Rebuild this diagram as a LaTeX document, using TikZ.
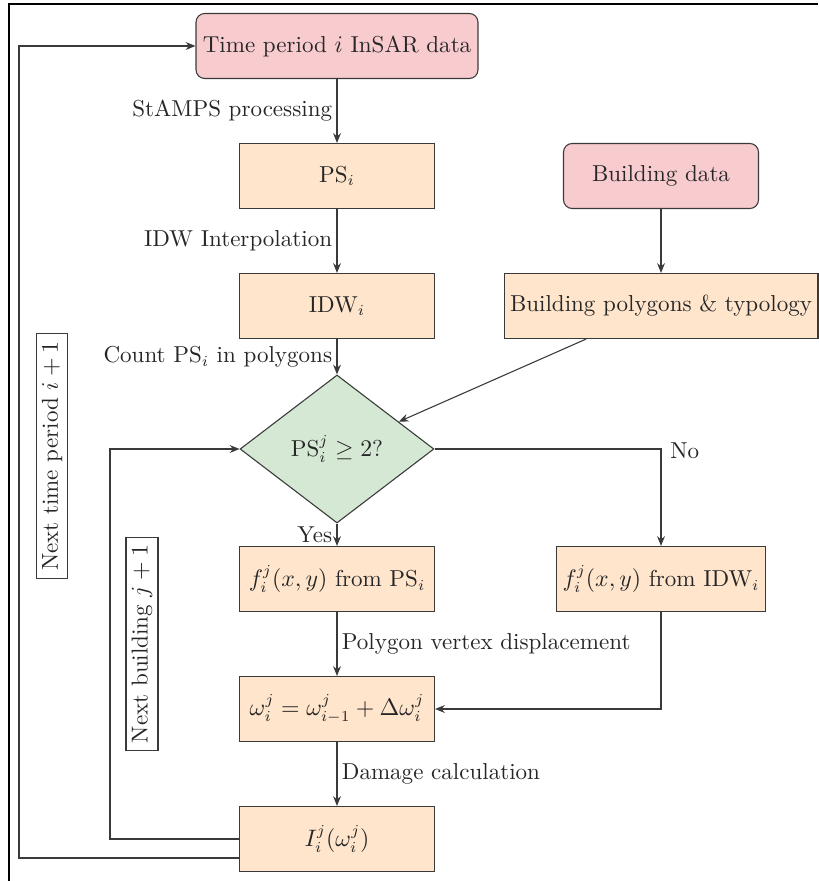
\documentclass[tikz,border=0pt]{standalone}
\usepackage{amsmath,amssymb}
\usetikzlibrary{shapes.geometric,arrows.meta,calc}
\definecolor{pinkf}{HTML}{F8CBCF}
\definecolor{orangef}{HTML}{FFE5CC}
\definecolor{greenf}{HTML}{D5E8D4}
\definecolor{linec}{HTML}{3A3A3A}
\begin{document}
\begin{tikzpicture}[x=0.46pt,y=-0.46pt,
  every node/.style={text=black!85, font=\fontsize{10.6}{12.7}\selectfont},
  base/.style={draw=linec, line width=0.5pt, align=center, inner sep=2pt},
  databox/.style={base, fill=pinkf, rounded corners=4pt, minimum height=29.9pt},
  procbox/.style={base, fill=orangef, minimum width=89.7pt, minimum height=29.9pt},
  decbox/.style={base, fill=greenf, diamond, aspect=1.31, minimum width=89.2pt, minimum height=68.1pt, inner sep=0pt},
  loopbox/.style={draw=linec, line width=0.5pt, rotate=90, inner xsep=3.3pt, inner ysep=2.6pt},
  conn/.style={draw=linec, line width=0.5pt, -{Stealth[length=4.5pt,width=3.6pt]}},
  lbl/.style={text=black!85, inner sep=2pt}
]
\useasboundingbox (0,0) rectangle (818,881);
% frame lines
\draw[line width=1.3pt] (9,881) -- (9,4) -- (818,4);

\node[databox, minimum width=129.7pt] (tp) at (337,46) {Time period $i$ InSAR data};
\node[procbox] (ps) at (337,176) {PS$_i$};
\node[databox, minimum width=89.7pt] (bd) at (661,176) {Building data};
\node[procbox] (idw) at (337,306) {IDW$_i$};
\node[procbox, minimum width=144.4pt] (poly) at (661,306) {Building polygons \& typology};
\node[decbox] (dia) at (337,449) {PS$_i^j \geq 2$?};
\node[procbox] (fps) at (337,579) {$f_i^j(x,y)$ from PS$_i$};
\node[procbox, minimum width=96.1pt] (fidw) at (661,579) {$f_i^j(x,y)$ from IDW$_i$};
\node[procbox] (om) at (337,709) {$\omega_i^j = \omega_{i-1}^j + \Delta\omega_i^j$};
\node[procbox] (imp) at (337,839) {$I_i^j(\omega_i^j)$};

\node[loopbox] (ntp) at (52,456) {Next time period $i+1$};
\node[loopbox] (nb) at (142,644) {Next building $j+1$};

\draw[conn] (tp) -- node[lbl, left] {StAMPS processing} (ps);
\draw[conn] (ps) -- node[lbl, left] {IDW Interpolation} (idw);
\draw[conn] (idw) -- node[lbl, left] {Count PS$_i$ in polygons} (dia);
\draw[conn] (bd) -- (poly);
\draw[conn] (poly) -- (dia);
\draw[conn] (dia) -- node[lbl, left] {Yes} (fps);
\draw[conn] (dia.east) -| node[lbl, pos=0.5, anchor=west, xshift=2pt, yshift=-1pt] {No} (fidw.north);
\draw[conn] (fps) -- node[lbl, right] {Polygon vertex displacement} (om);
\draw[conn] (fidw.south) |- (om.east);
\draw[conn] (om) -- node[lbl, right] {Damage calculation} (imp);
\draw[conn] (imp.west) -- ++(-129,0) |- (dia.west);
\draw[conn] ($(imp.west)+(0,19)$) -- ++(-220,0) |- (tp.west);
\end{tikzpicture}
\end{document}
